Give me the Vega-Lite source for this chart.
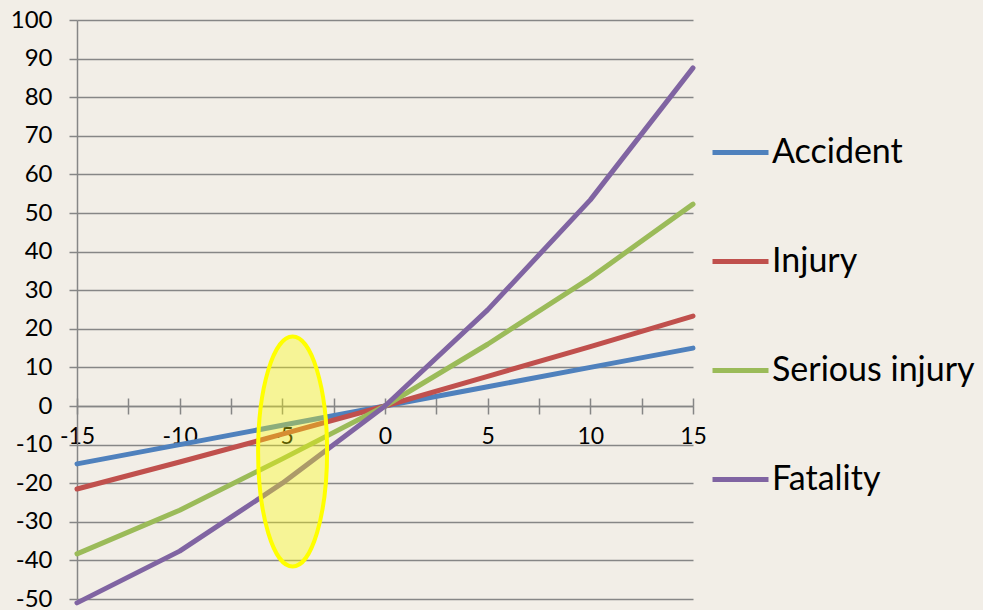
{
  "$schema": "https://vega.github.io/schema/vega-lite/v6.json",
  "width": 616,
  "height": 579,
  "autosize": "none",
  "padding": {"left": 77, "top": 20, "right": 290, "bottom": 11},
  "background": "#F2EEE7",
  "config": {
    "view": {"stroke": null},
    "font": "Lato"
  },
  "layer": [
    {
      "data": {"values": [
        {"x": -15, "y": -15, "series": "Accident"},
        {"x": -10, "y": -10, "series": "Accident"},
        {"x": -5, "y": -5, "series": "Accident"},
        {"x": 0, "y": 0, "series": "Accident"},
        {"x": 5, "y": 5, "series": "Accident"},
        {"x": 10, "y": 10, "series": "Accident"},
        {"x": 15, "y": 15, "series": "Accident"},
        {"x": -15, "y": -21.5, "series": "Injury"},
        {"x": -10, "y": -14.5, "series": "Injury"},
        {"x": -5, "y": -7.3, "series": "Injury"},
        {"x": 0, "y": 0, "series": "Injury"},
        {"x": 5, "y": 7.7, "series": "Injury"},
        {"x": 10, "y": 15.4, "series": "Injury"},
        {"x": 15, "y": 23.3, "series": "Injury"},
        {"x": -15, "y": -38.3, "series": "Serious injury"},
        {"x": -10, "y": -27, "series": "Serious injury"},
        {"x": -5, "y": -13.7, "series": "Serious injury"},
        {"x": 0, "y": 0, "series": "Serious injury"},
        {"x": 5, "y": 16, "series": "Serious injury"},
        {"x": 10, "y": 33.2, "series": "Serious injury"},
        {"x": 15, "y": 52.3, "series": "Serious injury"},
        {"x": -15, "y": -51, "series": "Fatality"},
        {"x": -10, "y": -37.6, "series": "Fatality"},
        {"x": -5, "y": -20, "series": "Fatality"},
        {"x": 0, "y": 0, "series": "Fatality"},
        {"x": 5, "y": 24.9, "series": "Fatality"},
        {"x": 10, "y": 53.4, "series": "Fatality"},
        {"x": 15, "y": 87.6, "series": "Fatality"}
      ]},
      "mark": {"type": "line", "strokeWidth": 5, "strokeCap": "round", "strokeJoin": "round", "clip": false},
      "encoding": {
        "x": {
          "field": "x", "type": "quantitative",
          "scale": {"domain": [-15, 15], "nice": false, "zero": false},
          "axis": {
            "orient": "bottom", "offset": -193,
            "values": [-15, -12.5, -10, -7.5, -5, -2.5, 0, 2.5, 5, 7.5, 10, 12.5, 15],
            "labelExpr": "datum.value % 5 === 0 ? '' + datum.value : ''",
            "title": null, "grid": false,
            "domainColor": "#868686", "domainWidth": 1.5,
            "tickColor": "#868686", "tickWidth": 1.5, "tickSize": 8,
            "labelFontSize": 23, "labelColor": "#000000", "labelPadding": 11,
            "labelFlush": false, "labelOverlap": false
          }
        },
        "y": {
          "field": "y", "type": "quantitative",
          "scale": {"domain": [-50, 100], "nice": false},
          "axis": {
            "values": [-50, -40, -30, -20, -10, 0, 10, 20, 30, 40, 50, 60, 70, 80, 90, 100],
            "labelExpr": "'' + datum.value",
            "title": null, "grid": true,
            "gridColor": "#868686", "gridWidth": 1.5,
            "domainColor": "#868686", "domainWidth": 1.5,
            "tickColor": "#868686", "tickWidth": 1.5, "tickSize": 8,
            "labelFontSize": 24, "labelColor": "#000000", "labelPadding": 17,
            "labelFlush": false, "labelOverlap": false
          }
        },
        "color": {
          "field": "series", "type": "nominal",
          "scale": {"domain": ["Accident", "Injury", "Serious injury", "Fatality"], "range": ["#4F81BD", "#C0504D", "#9BBB59", "#8064A2"]},
          "legend": {
            "orient": "none", "legendX": 633, "legendY": 102,
            "title": null, "padding": 0,
            "symbolType": "stroke", "symbolSize": 3136, "symbolStrokeWidth": 5,
            "labelFontSize": 34, "labelColor": "#000000", "labelOffset": 1,
            "labelLimit": 300, "rowPadding": 61
          }
        }
      }
    },
    {
      "data": {"values": [{"x": -4.5, "y": -11.8}]},
      "mark": {
        "type": "point",
        "shape": "M0,-1A0.3,1,0,1,1,0,1A0.3,1,0,1,1,0,-1Z",
        "size": 52900, "filled": true,
        "fill": "#FFFF00", "fillOpacity": 0.35,
        "stroke": "#FFFF00", "strokeWidth": 4, "strokeOpacity": 1, "opacity": 1
      },
      "encoding": {
        "x": {
          "field": "x", "type": "quantitative",
          "axis": {
            "orient": "top", "offset": -386,
            "values": [-15, -12.5, -10, -7.5, -5, -2.5, 0, 2.5, 5, 7.5, 10, 12.5, 15],
            "labels": false, "domain": false, "grid": false, "title": null,
            "tickColor": "#868686", "tickWidth": 1.5, "tickSize": 8
          }
        },
        "y": {"field": "y", "type": "quantitative", "axis": null}
      }
    }
  ],
  "resolve": {"axis": {"x": "independent", "y": "independent"}}
}
